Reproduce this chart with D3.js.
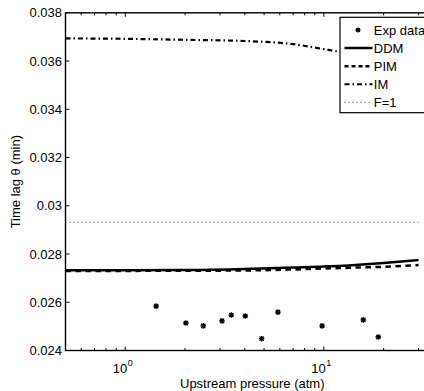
<!DOCTYPE html>
<html>
<head>
<meta charset="utf-8">
<script src="https://cdn.jsdelivr.net/npm/d3@7"></script>
<style>
  html, body { margin: 0; padding: 0; background: #fff; }
  svg { display: block; font-family: "Liberation Sans", Arial, sans-serif; }
</style>
</head>
<body>
<svg id="chart" width="424" height="391"></svg>
<script>
// ---- data ----
const expPressure = [1.43, 2.02, 2.47, 3.07, 3.42, 4.02, 4.86, 5.87, 9.8, 15.8, 18.8];
const expLag      = [0.02584, 0.02514, 0.02502, 0.02523, 0.02547, 0.02543, 0.02449, 0.02559, 0.02502, 0.02527, 0.02456];

const modelPressure = [0.5, 1, 2, 4, 7, 10, 15, 20, 30];
const ddmLag = [0.027324, 0.027328, 0.027336, 0.027378, 0.02744, 0.02748, 0.02756, 0.02763, 0.02775];
const pimLag = [0.027295, 0.027300, 0.027305, 0.027318, 0.02736, 0.02740, 0.02744, 0.02747, 0.02754];
const imLag  = [0.036938, 0.036921, 0.036880, 0.036830, 0.036700, 0.036494, 0.03625, 0.03605, 0.03580];
const f1Lag  = [0.02931, 0.02931, 0.02931, 0.02931, 0.02931, 0.02931, 0.02931, 0.02931, 0.02931];

const yTicks = [0.024, 0.026, 0.028, 0.030, 0.032, 0.034, 0.036, 0.038];
const yTickLabels = ["0.024", "0.026", "0.028", "0.03", "0.032", "0.034", "0.036", "0.038"];
const xMajorTicks = [1, 10];
const xMajorExp = ["0", "1"];
const xMinorTicks = [0.6, 0.7, 0.8, 0.9, 2, 3, 4, 5, 6, 7, 8, 9, 20, 30];
const legendLabels = ["Exp data", "DDM", "PIM", "IM", "F=1"];

// ---- layout ----
const svg = d3.select("#chart");
const L = 65.5, R = 439, T = 12.8, B = 350.5;
const x = d3.scaleLog().domain([0.5, 38]).range([L, R]);
const y = d3.scaleLinear().domain([0.024, 0.038]).range([B, T]);

svg.append("rect").attr("width", 424).attr("height", 391).attr("fill", "#fff");

const clip = svg.append("clipPath").attr("id", "clip")
  .append("rect").attr("x", L).attr("y", T).attr("width", R - L).attr("height", B - T);

const plot = svg.append("g").attr("clip-path", "url(#clip)");

const line = d3.line().x(d => x(d[0])).y(d => y(d[1])).curve(d3.curveMonotoneX);

const series = [
  { vals: f1Lag,  stroke: "#8a8a8a", width: 1.3, dash: "1.3,2.7" },
  { vals: pimLag, stroke: "#000", width: 2.5, dash: "5.5,4.5" },
  { vals: ddmLag, stroke: "#000", width: 2.5, dash: null },
  { vals: imLag,  stroke: "#000", width: 2.2, dash: "5,3,1.5,3" }
];
series.forEach(s => {
  plot.append("path")
    .datum(modelPressure.map((p, i) => [p, s.vals[i]]))
    .attr("d", line)
    .attr("fill", "none")
    .attr("stroke", s.stroke)
    .attr("stroke-width", s.width)
    .attr("stroke-dasharray", s.dash);
});

function asterisk(g, cx, cy, r) {
  const d = `M${cx - r},${cy}L${cx + r},${cy}M${cx},${cy - r}L${cx},${cy + r}` +
    `M${cx - r * 0.75},${cy - r * 0.75}L${cx + r * 0.75},${cy + r * 0.75}` +
    `M${cx - r * 0.75},${cy + r * 0.75}L${cx + r * 0.75},${cy - r * 0.75}`;
  g.append("path").attr("d", d).attr("stroke", "#000").attr("stroke-width", 1.3).attr("fill", "none");
}
expPressure.forEach((p, i) => asterisk(plot, x(p), y(expLag[i]), 2.8));

// ---- axes (MATLAB style box, inward ticks) ----
const axisG = svg.append("g");
axisG.append("rect").attr("x", L).attr("y", T).attr("width", R - L).attr("height", B - T)
  .attr("fill", "none").attr("stroke", "#000").attr("stroke-width", 1.4);

// y ticks
yTicks.forEach((v, i) => {
  const yy = y(v);
  axisG.append("line").attr("x1", L).attr("x2", L + 4).attr("y1", yy).attr("y2", yy)
    .attr("stroke", "#000").attr("stroke-width", 1);
  axisG.append("line").attr("x1", R).attr("x2", R - 4).attr("y1", yy).attr("y2", yy)
    .attr("stroke", "#000").attr("stroke-width", 1);
  axisG.append("text").attr("x", L - 3.5).attr("y", yy).attr("dy", "0.36em")
    .attr("text-anchor", "end").attr("font-size", 13).attr("fill", "#000")
    .text(yTickLabels[i]);
});

// x ticks
xMajorTicks.concat(xMinorTicks).forEach(v => {
  const xx = x(v);
  const len = xMajorTicks.includes(v) ? 4 : 2.5;
  axisG.append("line").attr("x1", xx).attr("x2", xx).attr("y1", B).attr("y2", B - len)
    .attr("stroke", "#000").attr("stroke-width", 1);
  axisG.append("line").attr("x1", xx).attr("x2", xx).attr("y1", T).attr("y2", T + len)
    .attr("stroke", "#000").attr("stroke-width", 1);
});
xMajorTicks.forEach((v, i) => {
  const t = axisG.append("text").attr("x", x(v) - 2.5).attr("y", 372.5)
    .attr("text-anchor", "middle").attr("font-size", 13).attr("fill", "#000");
  t.append("tspan").text("10");
  t.append("tspan").attr("font-size", 9).attr("dy", -7).attr("dx", 0.5).text(xMajorExp[i]);
});

// axis titles
svg.append("text").attr("x", (L + R) / 2).attr("y", 387.5).attr("text-anchor", "middle")
  .attr("font-size", 13).attr("fill", "#000").text("Upstream pressure (atm)");
svg.append("text").attr("transform", `translate(19.5,${(T + B) / 2}) rotate(-90)`)
  .attr("text-anchor", "middle").attr("font-size", 13).attr("fill", "#000")
  .text("Time lag \u03b8 (min)");

// ---- legend ----
const lg = svg.append("g");
const lx = 340, ly = 17.3, lh = 95.4;
lg.append("rect").attr("x", lx).attr("y", ly).attr("width", 110).attr("height", lh)
  .attr("fill", "#fff").attr("stroke", "#000").attr("stroke-width", 1.2);
const rowY = [30, 48, 66.2, 84.3, 102.4];
const legStyles = [
  null,
  { stroke: "#000", width: 2.5, dash: null },
  { stroke: "#000", width: 2.5, dash: "4,3" },
  { stroke: "#000", width: 2, dash: "5,3,1.5,3" },
  { stroke: "#8a8a8a", width: 1.3, dash: "1.3,2.7" }
];
legendLabels.forEach((lab, i) => {
  const yy = rowY[i];
  if (i === 0) {
    asterisk(lg, 358, yy, 2.5);
  } else {
    const s = legStyles[i];
    lg.append("line").attr("x1", 344.5).attr("x2", 372.5).attr("y1", yy).attr("y2", yy)
      .attr("stroke", s.stroke).attr("stroke-width", s.width).attr("stroke-dasharray", s.dash);
  }
  lg.append("text").attr("x", 373.8).attr("y", yy).attr("dy", "0.36em")
    .attr("font-size", 13).attr("fill", "#000").text(lab);
});
</script>
</body>
</html>
